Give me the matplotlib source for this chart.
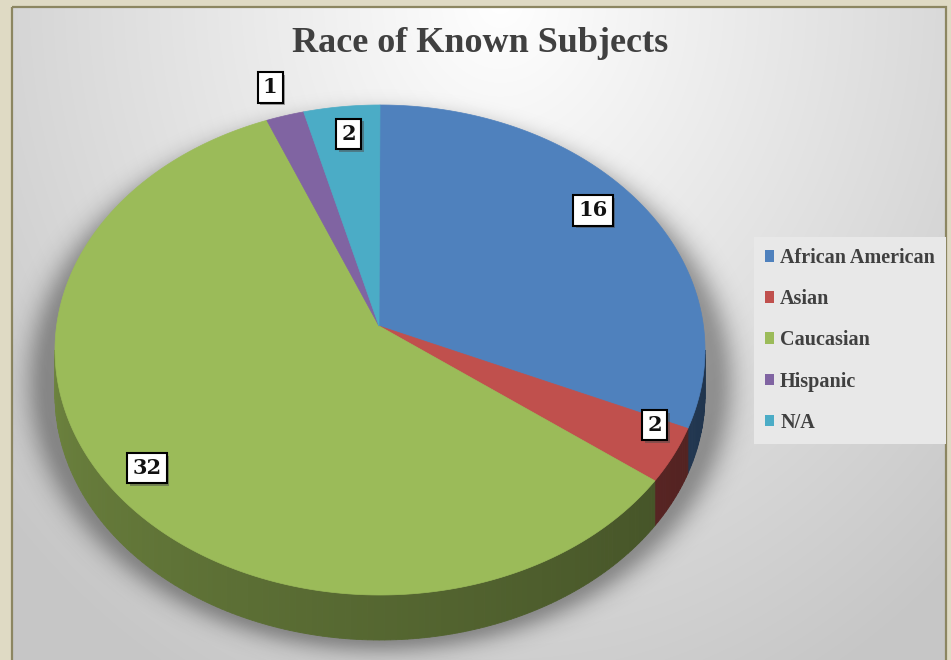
import numpy as np
import matplotlib
matplotlib.use("Agg")
import matplotlib.pyplot as plt
from matplotlib.patches import Polygon, Rectangle, Patch
import matplotlib.patheffects as pe
from matplotlib.colors import to_rgb

# data
categories = ["African American", "Asian", "Caucasian", "Hispanic", "N/A"]
counts = [16, 2, 32, 1, 2]
colors = ["#4f81bd", "#c0504d", "#9bbb59", "#8064a2", "#4bacc6"]
title = "Race of Known Subjects"

W, H = 951, 660
fig = plt.figure(figsize=(W / 100, H / 100), dpi=100)
fig.patch.set_facecolor("#dfdac4")
ax = fig.add_axes([0, 0, 1, 1])

# panel background with soft gradient
yy, xx = np.mgrid[0:H, 0:W]
d = np.sqrt(((xx - 500) / 600.0) ** 2 + ((yy - 0) / 700.0) ** 2)
bg = np.clip(1.0 - 0.2 * d, 0.78, 1.0)
bg_img = np.dstack([bg, bg, bg])
panel = Rectangle((12, 7), 934, 670, facecolor="none", edgecolor="#8c8661", lw=1.6, zorder=1)
im = ax.imshow(bg_img, extent=(0, W, H, 0), zorder=0, aspect="auto")
ax.add_patch(panel)
im.set_clip_path(panel)

# pie geometry (pixel space)
cx, cy, rx, ry = 380, 350, 325, 245
apex = (379, 326)
depth = 45


def rim(theta_deg):
    t = np.radians(theta_deg)
    return cx + rx * np.sin(t), cy - ry * np.cos(t)


# soft shadow behind the pie
ex = (xx - cx) / (rx + 8)
ey = (yy - (cy + depth * 0.7)) / (ry + 10)
r = np.sqrt(ex ** 2 + ey ** 2)
shadow_a = np.clip(np.exp(-((r - 1.0) / 0.07) ** 2), 0, 1) * 0.35
shadow_a[r < 1.0] = 0.35
sh = np.zeros((H, W, 4))
sh[..., 3] = shadow_a
sh_im = ax.imshow(sh, extent=(0, W, H, 0), zorder=1.5, aspect="auto")
sh_im.set_clip_path(panel)

total = float(sum(counts))
bounds = np.concatenate([[0], np.cumsum(counts)]) / total * 360.0

# side walls (front half only, theta in 90..270)
for i, c in enumerate(colors):
    a0, a1 = bounds[i], bounds[i + 1]
    lo, hi = max(a0, 90), min(a1, 270)
    if hi <= lo:
        continue
    base = np.array(to_rgb(c))
    steps = np.linspace(lo, hi, int(hi - lo) + 2)
    for s0, s1 in zip(steps[:-1], steps[1:]):
        f = 0.40 + 0.30 * ((s0 + s1) / 2 - 90) / 180.0
        col = base * f
        x0, y0 = rim(s0)
        x1, y1 = rim(s1)
        ax.add_patch(Polygon([(x0, y0), (x1, y1), (x1, y1 + depth), (x0, y0 + depth)],
                             closed=True, facecolor=col, edgecolor=col, lw=0.6, zorder=2))

# top face wedges
for i, c in enumerate(colors):
    a0, a1 = bounds[i], bounds[i + 1]
    th = np.linspace(a0, a1, max(int(a1 - a0) * 2, 4))
    pts = [apex] + [rim(t) for t in th]
    ax.add_patch(Polygon(pts, closed=True, facecolor=c, edgecolor=c, lw=0.5, zorder=3))

# data labels (placed from the apex along each slice's mid angle)
label_r = [0.81, 0.94, 0.92, 1.03, 0.79]
label_shift = [0, 0, 0, -2, 0]
for i, v in enumerate(counts):
    mid = (bounds[i] + bounds[i + 1]) / 2 + label_shift[i]
    t = np.radians(mid)
    lx = apex[0] + rx * label_r[i] * np.sin(t)
    ly = apex[1] - ry * label_r[i] * np.cos(t)
    txt = ax.text(lx, ly, str(v), ha="center", va="center", fontsize=15, fontweight="bold",
                  family="DejaVu Serif", color="#111111", zorder=6,
                  bbox=dict(boxstyle="square,pad=0.25", facecolor="white", edgecolor="black", lw=1.5))
    txt.get_bbox_patch().set_path_effects([pe.SimplePatchShadow(offset=(2, -2), alpha=0.5), pe.Normal()])

# title
ax.text(480, 44, title, ha="center", va="center", fontsize=26, fontweight="bold",
        family="Liberation Serif", color="#404040", zorder=6)

# legend
handles = [Patch(facecolor=c, edgecolor="none") for c in colors]
leg = ax.legend(handles, categories, loc="upper left", bbox_to_anchor=(754 / W, 1 - 237 / H),
                frameon=True, fancybox=False, framealpha=1, facecolor="#e8e8e8", edgecolor="none",
                prop={"family": "Liberation Serif", "weight": "bold", "size": 14.5},
                handlelength=0.45, handleheight=0.5, handletextpad=0.3, labelspacing=1.05,
                borderpad=0.55, borderaxespad=0)
for t in leg.get_texts():
    t.set_color("#404040")
leg.set_zorder(7)

ax.set_xlim(0, W)
ax.set_ylim(H, 0)
ax.axis("off")

plt.savefig("out.png", dpi=100)
plt.close()
